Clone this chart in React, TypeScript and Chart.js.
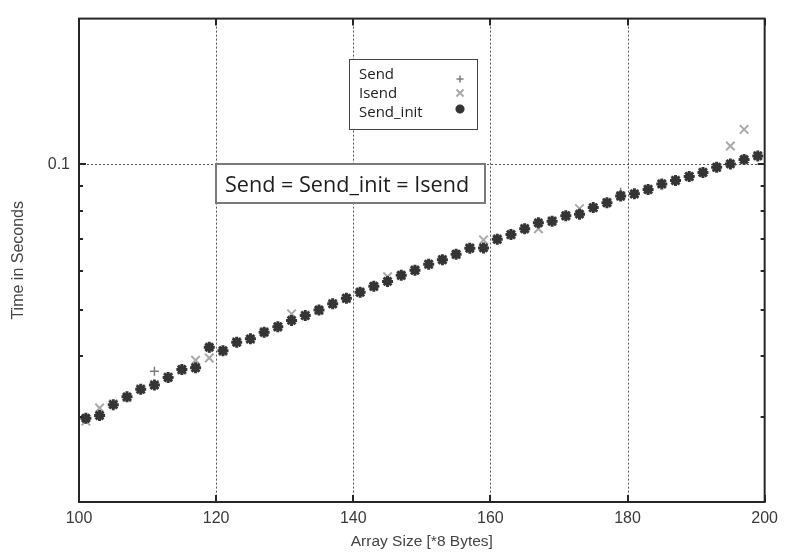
import { useEffect, useRef } from 'react';
import { Chart, registerables } from 'chart.js';

Chart.register(...registerables);

// ---------- data ----------
const xValues = [
  101, 103, 105, 107, 109, 111, 113, 115, 117, 119,
  121, 123, 125, 127, 129, 131, 133, 135, 137, 139,
  141, 143, 145, 147, 149, 151, 153, 155, 157, 159,
  161, 163, 165, 167, 169, 171, 173, 175, 177, 179,
  181, 183, 185, 187, 189, 191, 193, 195, 197, 199,
];

const sendInitValues = [
  0.0298, 0.0302, 0.0318, 0.0330, 0.0342, 0.0349, 0.0362, 0.0376, 0.0379, 0.0418,
  0.0411, 0.0428, 0.0435, 0.0449, 0.0461, 0.0475, 0.0486, 0.0499, 0.0514, 0.0528,
  0.0543, 0.0559, 0.0572, 0.0589, 0.0603, 0.0621, 0.0634, 0.0651, 0.0670, 0.0671,
  0.0699, 0.0715, 0.0735, 0.0756, 0.0762, 0.0782, 0.0788, 0.0813, 0.0832, 0.0859,
  0.0868, 0.0886, 0.0910, 0.0925, 0.0943, 0.0961, 0.0985, 0.1001, 0.1022, 0.1040,
];

const sendValues = [
  0.0297, 0.0303, 0.0317, 0.0331, 0.0341, 0.0373, 0.0361, 0.0377, 0.0380, 0.0416,
  0.0412, 0.0427, 0.0436, 0.0448, 0.0462, 0.0476, 0.0485, 0.0500, 0.0513, 0.0529,
  0.0542, 0.0560, 0.0571, 0.0590, 0.0602, 0.0622, 0.0633, 0.0652, 0.0669, 0.0672,
  0.0698, 0.0716, 0.0734, 0.0757, 0.0761, 0.0783, 0.0787, 0.0814, 0.0831, 0.0875,
  0.0869, 0.0885, 0.0911, 0.0924, 0.0944, 0.0960, 0.0986, 0.1000, 0.1023, 0.1039,
];

const isendValues = [
  0.0294, 0.0313, 0.0319, 0.0329, 0.0343, 0.0350, 0.0363, 0.0375, 0.0393, 0.0397,
  0.0410, 0.0429, 0.0434, 0.0450, 0.0460, 0.0490, 0.0487, 0.0498, 0.0515, 0.0527,
  0.0544, 0.0558, 0.0585, 0.0588, 0.0604, 0.0620, 0.0635, 0.0650, 0.0671, 0.0697,
  0.0700, 0.0714, 0.0736, 0.0735, 0.0763, 0.0781, 0.0809, 0.0812, 0.0833, 0.0858,
  0.0867, 0.0887, 0.0909, 0.0926, 0.0942, 0.0962, 0.0984, 0.1090, 0.1180, 0.1041,
];

const seriesLabels = ['Send', 'Isend', 'Send_init'];
const xTickValues = [100, 120, 140, 160, 180, 200];
const xGridValues = [120, 140, 160, 180];
const yLabelTicks = [0.1];
const yGridValues = [0.1];
const yMinorTicks = [0.03, 0.04, 0.05, 0.06, 0.07, 0.08, 0.09];
const X_MIN = 100;
const X_MAX = 200;
const Y_MIN = 0.02;
const Y_MAX = 0.2;
const xTitle = 'Array Size [*8 Bytes]';
const yTitle = 'Time in Seconds';
const annotationText = 'Send = Send_init = Isend';

// ---------- styles ----------
const AXIS_FONT = "'Liberation Sans', Arial, sans-serif";
const NOTE_FONT = "'Open Sans', 'Noto Sans', sans-serif";
const styles = [
  { pointStyle: 'cross', radius: 4.5, color: '#7c7c7c', width: 1.5 },
  { pointStyle: 'crossRot', radius: 6, color: '#a9a9a9', width: 2 },
  { pointStyle: 'star', radius: 5.5, color: '#343434', width: 3 },
];

function drawMarker(ctx: CanvasRenderingContext2D, style: string, cx: number, cy: number, r: number, color: string, w: number) {
  ctx.save();
  ctx.strokeStyle = color;
  ctx.lineWidth = w;
  ctx.beginPath();
  if (style === 'cross' || style === 'star') {
    ctx.moveTo(cx - r, cy);
    ctx.lineTo(cx + r, cy);
    ctx.moveTo(cx, cy - r);
    ctx.lineTo(cx, cy + r);
  }
  if (style === 'crossRot' || style === 'star') {
    const d = r * Math.SQRT1_2;
    ctx.moveTo(cx - d, cy - d);
    ctx.lineTo(cx + d, cy + d);
    ctx.moveTo(cx + d, cy - d);
    ctx.lineTo(cx - d, cy + d);
  }
  ctx.stroke();
  ctx.restore();
}

const gridPlugin = {
  id: 'gnuGrid',
  beforeDatasetsDraw(chart: any) {
    const { ctx, chartArea, scales } = chart;
    const { left, right, top, bottom } = chartArea;
    const x = scales.x;
    const y = scales.y;
    ctx.save();
    ctx.strokeStyle = '#555';
    ctx.lineWidth = 1;
    ctx.setLineDash([2, 2]);
    xGridValues.forEach((v) => {
      const px = Math.round(x.getPixelForValue(v)) + 0.5;
      ctx.beginPath();
      ctx.moveTo(px, top);
      ctx.lineTo(px, bottom);
      ctx.stroke();
    });
    yGridValues.forEach((v) => {
      const py = Math.round(y.getPixelForValue(v)) + 0.5;
      ctx.beginPath();
      ctx.moveTo(left, py);
      ctx.lineTo(right, py);
      ctx.stroke();
    });
    ctx.restore();
  },
  afterDatasetsDraw(chart: any) {
    const { ctx, chartArea, scales } = chart;
    const { left, right, top, bottom } = chartArea;
    const x = scales.x;
    const y = scales.y;
    ctx.save();
    // frame
    ctx.strokeStyle = '#262626';
    ctx.lineWidth = 2;
    ctx.strokeRect(left, top, right - left, bottom - top);
    // inward ticks
    ctx.lineWidth = 2;
    ctx.beginPath();
    xTickValues.forEach((v) => {
      const px = Math.round(x.getPixelForValue(v));
      ctx.moveTo(px, bottom);
      ctx.lineTo(px, bottom - 7);
      ctx.moveTo(px, top);
      ctx.lineTo(px, top + 7);
    });
    yLabelTicks.forEach((v) => {
      const py = Math.round(y.getPixelForValue(v));
      ctx.moveTo(left, py);
      ctx.lineTo(left + 7, py);
      ctx.moveTo(right, py);
      ctx.lineTo(right - 7, py);
    });
    yMinorTicks.forEach((v) => {
      const py = Math.round(y.getPixelForValue(v));
      ctx.moveTo(left, py);
      ctx.lineTo(left + 4, py);
      ctx.moveTo(right, py);
      ctx.lineTo(right - 4, py);
    });
    ctx.stroke();

    // legend box
    ctx.fillStyle = '#fff';
    ctx.fillRect(349, 59, 128, 70);
    ctx.strokeStyle = '#444';
    ctx.lineWidth = 1;
    ctx.strokeRect(349.5, 59.5, 128, 70);
    ctx.fillStyle = '#222';
    ctx.font = `15px ${NOTE_FONT}`;
    ctx.textBaseline = 'alphabetic';
    ctx.textAlign = 'left';
    const baselines = [79, 98, 117];
    const markerY = [79, 93, 109];
    seriesLabels.forEach((label, i) => {
      ctx.fillText(label, 359, baselines[i]);
      const s = styles[i];
      drawMarker(ctx, s.pointStyle, 460, markerY[i], s.radius - 1, s.color, s.width);
    });

    // annotation box
    ctx.fillStyle = '#fff';
    ctx.fillRect(216, 164, 269, 39);
    ctx.strokeStyle = '#7a7a7a';
    ctx.lineWidth = 2;
    ctx.strokeRect(216, 164, 269, 39);
    ctx.fillStyle = '#1e1e1e';
    ctx.font = `21.6px ${NOTE_FONT}`;
    ctx.fillText(annotationText, 225, 192);
    ctx.restore();
  },
};

export default function App() {
  const canvasRef = useRef<HTMLCanvasElement | null>(null);

  useEffect(() => {
    const canvas = canvasRef.current;
    if (!canvas) return;
    const datasets = [sendValues, isendValues, sendInitValues].map((vals, i) => ({
      label: seriesLabels[i],
      data: xValues.map((xv, j) => ({ x: xv, y: vals[j] })),
      pointStyle: styles[i].pointStyle,
      pointRadius: styles[i].radius,
      pointBorderColor: styles[i].color,
      pointBackgroundColor: styles[i].color,
      pointBorderWidth: styles[i].width,
      showLine: false,
      order: i === 2 ? 0 : i === 0 ? 1 : 2,
    }));

    const chart = new Chart(canvas, {
      type: 'scatter',
      data: { datasets } as any,
      options: {
        animation: false,
        responsive: false,
        events: [],
        layout: { padding: { left: 0, right: 18, top: 9, bottom: 0 } },
        plugins: { legend: { display: false }, tooltip: { enabled: false } },
        scales: {
          x: {
            type: 'linear',
            min: X_MIN,
            max: X_MAX,
            afterBuildTicks: (s: any) => {
              s.ticks = xTickValues.map((v) => ({ value: v }));
            },
            afterFit: (s: any) => {
              s.height = 53;
            },
            grid: { display: false, drawTicks: false },
            border: { display: false },
            ticks: {
              padding: 7,
              color: '#3a3a3a',
              maxRotation: 0,
              font: { family: AXIS_FONT, size: 16 },
              callback: (v: any) => String(v),
            },
            title: {
              display: true,
              text: xTitle,
              color: '#444',
              font: { family: AXIS_FONT, size: 15.5 },
              padding: { top: 0, bottom: 4 },
            },
          },
          y: {
            type: 'logarithmic',
            min: Y_MIN,
            max: Y_MAX,
            afterBuildTicks: (s: any) => {
              s.ticks = yLabelTicks.map((v) => ({ value: v }));
            },
            afterFit: (s: any) => {
              s.width = 79;
            },
            grid: { display: false, drawTicks: false },
            border: { display: false },
            ticks: {
              padding: 9,
              color: '#3a3a3a',
              font: { family: AXIS_FONT, size: 16 },
              callback: (v: any) => String(v),
            },
            title: {
              display: true,
              text: yTitle,
              color: '#444',
              font: { family: AXIS_FONT, size: 16 },
              padding: { top: 9, bottom: 0 },
            },
          },
        },
      } as any,
      plugins: [gridPlugin],
    });
    return () => chart.destroy();
  }, []);

  return (
    <div style={{ position: 'absolute', left: 0, top: 0, width: 785, height: 555, background: '#fff' }}>
      <canvas ref={canvasRef} width={785} height={555} />
    </div>
  );
}
